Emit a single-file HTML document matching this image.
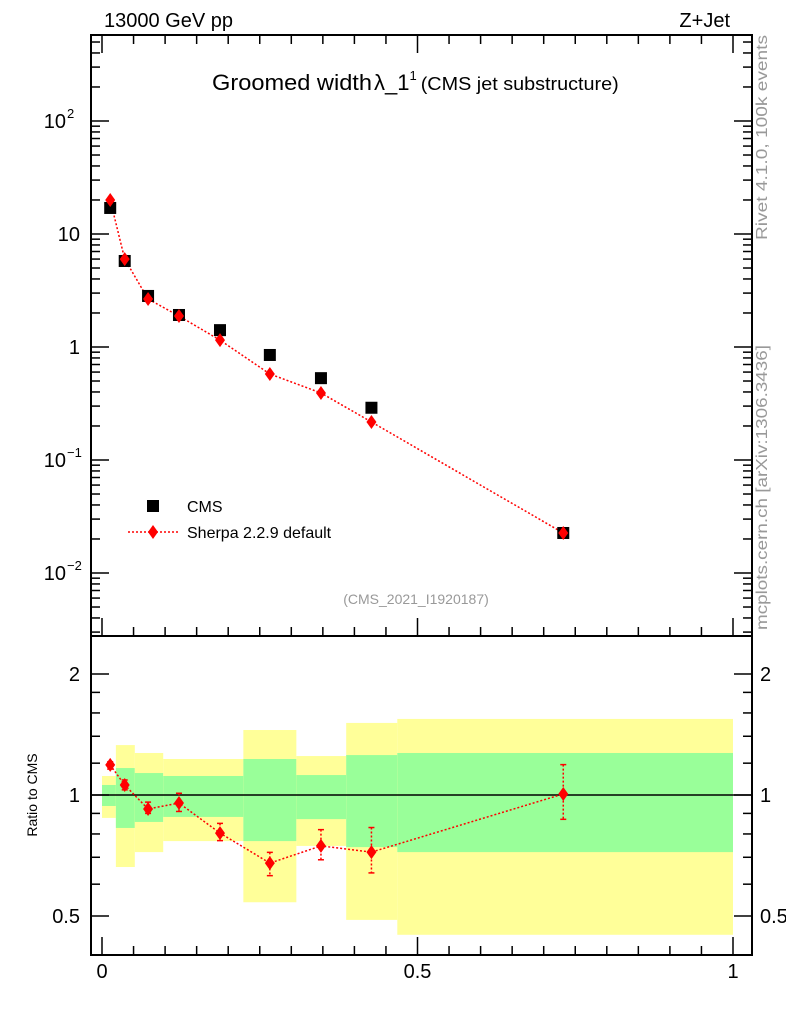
<!DOCTYPE html>
<html><head><meta charset="utf-8"><style>
body{margin:0;background:#fff;}
svg{display:block;font-family:"Liberation Sans",sans-serif;}
</style></head><body>
<svg id="c" width="786" height="1024" xmlns="http://www.w3.org/2000/svg">
<g id="bands"></g>
<g id="axes"></g>
<g id="marks"></g>
<rect x="91" y="35" width="661" height="601" fill="none" stroke="#000" stroke-width="2"/>
<rect x="91" y="636" width="661" height="319" fill="none" stroke="#000" stroke-width="2"/>
<text x="104" y="27" font-size="20">13000 GeV pp</text>
<text x="730" y="27" font-size="20" text-anchor="end">Z+Jet</text>
<text x="212" y="90" font-size="22"><tspan textLength="160" lengthAdjust="spacingAndGlyphs">Groomed width</tspan><tspan dx="2">λ_1</tspan><tspan font-size="13" dy="-10">1</tspan><tspan font-size="18" dy="10" dx="4" textLength="198" lengthAdjust="spacingAndGlyphs">(CMS jet substructure)</tspan></text>
<text x="416" y="604" font-size="14" fill="#999" text-anchor="middle">(CMS_2021_I1920187)</text>
<text transform="translate(767,240) rotate(-90)" font-size="16" fill="#999" textLength="205" lengthAdjust="spacingAndGlyphs">Rivet 4.1.0,  100k events</text>
<text transform="translate(767,630) rotate(-90)" font-size="16" fill="#999" textLength="285" lengthAdjust="spacingAndGlyphs">mcplots.cern.ch [arXiv:1306.3436]</text>
<text transform="translate(37,795) rotate(-90)" font-size="14" text-anchor="middle">Ratio to CMS</text>
<g>
<rect x="147" y="500" width="12" height="12" fill="#000"/>
<text x="187" y="512" font-size="16">CMS</text>
<line x1="128" y1="532" x2="180" y2="532" stroke="red" stroke-dasharray="2,2" stroke-width="1.5"/>
<path d="M153,525 L158,532 L153,539 L148,532 Z" fill="red"/>
<text x="187" y="538" font-size="16">Sherpa 2.2.9 default</text>
</g>
</svg>
<script>
const xs = [0.013, 0.036, 0.073, 0.122, 0.187, 0.266, 0.347, 0.427, 0.731];
const cmsVals = [17, 5.77, 2.83, 1.92, 1.41, 0.85, 0.53, 0.29, 0.0226];
const sherpaVals = [20, 6.0, 2.66, 1.88, 1.15, 0.577, 0.392, 0.217, 0.0226];
const ratioVals = [1.188, 1.059, 0.923, 0.955, 0.804, 0.677, 0.747, 0.721, 1.006];
const ratioLo = [1.16, 1.03, 0.90, 0.91, 0.77, 0.63, 0.69, 0.64, 0.87];
const ratioHi = [1.21, 1.09, 0.96, 1.01, 0.85, 0.72, 0.82, 0.83, 1.19];
const binEdges = [0, 0.022, 0.052, 0.097, 0.224, 0.308, 0.387, 0.468, 1.0];
const greenLo = [0.939, 0.828, 0.857, 0.882, 0.768, 0.871, 0.742, 0.721];
const greenHi = [1.059, 1.167, 1.134, 1.115, 1.229, 1.121, 1.257, 1.272];
const yellowLo = [0.877, 0.662, 0.721, 0.768, 0.541, 0.747, 0.489, 0.449];
const yellowHi = [1.115, 1.331, 1.272, 1.229, 1.451, 1.250, 1.511, 1.546];
const xTickLabels = ["0", "0.5", "1"];
const xTickVals = [0, 0.5, 1];
const NS = "http://www.w3.org/2000/svg";
const X = v => 102 + 631 * v;
const Y = v => 347 - 113 * Math.log10(v);
const R = v => 795 - 402 * Math.log10(v);
function mk(tag, attrs, parent, txt){const e=document.createElementNS(NS,tag);for(const k in attrs)e.setAttribute(k,attrs[k]);if(txt!==undefined)e.textContent=txt;document.getElementById(parent).appendChild(e);return e;}
for(let i=0;i<binEdges.length-1;i++){
  const x0=X(binEdges[i]),x1=X(binEdges[i+1]);
  let e=mk('rect',{x:x0,y:R(yellowHi[i]),width:x1-x0,height:R(yellowLo[i])-R(yellowHi[i]),fill:'#ffff99'},'bands');
  
  
  e=mk('rect',{x:x0,y:R(greenHi[i]),width:x1-x0,height:R(greenLo[i])-R(greenHi[i]),fill:'#99ff99'},'bands');
  
  
}
let l=mk('line',{x1:91,x2:752,y1:R(1),y2:R(1),stroke:'#000','stroke-width':1.5},'axes');


for(let k=0;k<=20;k++){
  const v=k*0.05,px=X(v),maj=(k%10===0),len=maj?18:9;
  mk('line',{x1:px,x2:px,y1:955,y2:955-len,stroke:'#000','stroke-width':1.5},'axes');
  mk('line',{x1:px,x2:px,y1:636,y2:636-len,stroke:'#000','stroke-width':1.5},'axes');
  mk('line',{x1:px,x2:px,y1:35,y2:35+len,stroke:'#000','stroke-width':1.5},'axes');
}
xTickVals.forEach((v,i)=>{const t=mk('text',{x:X(v),y:978,'font-size':20,'text-anchor':'middle'},'axes',xTickLabels[i]);
  
  });
for(let d=-3;d<=2;d++){
  for(let m=1;m<=9;m++){
    const v=m*Math.pow(10,d),py=Y(v);
    if(py<35||py>636)continue;
    const len=m===1?18:9;
    mk('line',{x1:91,x2:91+len,y1:py,y2:py,stroke:'#000','stroke-width':1.5},'axes');
    mk('line',{x1:752,x2:752-len,y1:py,y2:py,stroke:'#000','stroke-width':1.5},'axes');
  }
}
const yLabs=[[2,'10','2'],[1,'10',''],[0,'1',''],[-1,'10','−1'],[-2,'10','−2']];
yLabs.forEach(a=>{const py=Y(Math.pow(10,a[0]));
  const t=mk('text',{x:a[2]?66:80,y:py+7,'font-size':20,'text-anchor':'end'},'axes',a[1]);
  
  
  if(a[2]){mk('text',{x:67,y:py-3,'font-size':13},'axes',a[2]);}
});
[0.5,0.6,0.7,0.8,0.9,1,1.2,1.4,1.6,1.8,2].forEach(v=>{const py=R(v);const maj=(v===0.5||v===1||v===2),len=maj?18:9;
  mk('line',{x1:91,x2:91+len,y1:py,y2:py,stroke:'#000','stroke-width':1.5},'axes');
  mk('line',{x1:752,x2:752-len,y1:py,y2:py,stroke:'#000','stroke-width':1.5},'axes');});
[[2,'2'],[1,'1'],[0.5,'0.5']].forEach(a=>{
  let t=mk('text',{x:80,y:R(a[0])+7,'font-size':20,'text-anchor':'end'},'axes',a[1]);
  
  
  t=mk('text',{x:760,y:R(a[0])+7,'font-size':20},'axes',a[1]);
  
  });
mk('polyline',{points:xs.map((x,i)=>X(x)+','+Y(sherpaVals[i])).join(' '),fill:'none',stroke:'red','stroke-width':1.5,'stroke-dasharray':'2,2'},'marks');
xs.forEach((x,i)=>{
  const r=mk('rect',{x:X(x)-6,y:Y(cmsVals[i])-6,width:12,height:12,fill:'#000'},'marks');
  
  
  const px=X(x),py=Y(sherpaVals[i]);
  const d=mk('path',{d:`M${px},${py-7} L${px+5},${py} L${px},${py+7} L${px-5},${py} Z`,fill:'red'},'marks');
  
  
});
mk('polyline',{points:xs.map((x,i)=>X(x)+','+R(ratioVals[i])).join(' '),fill:'none',stroke:'red','stroke-width':1.5,'stroke-dasharray':'2,2'},'marks');
xs.forEach((x,i)=>{
  const px=X(x),py=R(ratioVals[i]);
  mk('line',{x1:px,x2:px,y1:R(ratioHi[i]),y2:R(ratioLo[i]),stroke:'red','stroke-width':1.5,'stroke-dasharray':'2,2'},'marks');
  mk('line',{x1:px-3,x2:px+3,y1:R(ratioHi[i]),y2:R(ratioHi[i]),stroke:'red','stroke-width':1.5},'marks');
  mk('line',{x1:px-3,x2:px+3,y1:R(ratioLo[i]),y2:R(ratioLo[i]),stroke:'red','stroke-width':1.5},'marks');
  const d=mk('path',{d:`M${px},${py-7} L${px+5},${py} L${px},${py+7} L${px-5},${py} Z`,fill:'red'},'marks');
  
  
});
</script>
</body></html>
